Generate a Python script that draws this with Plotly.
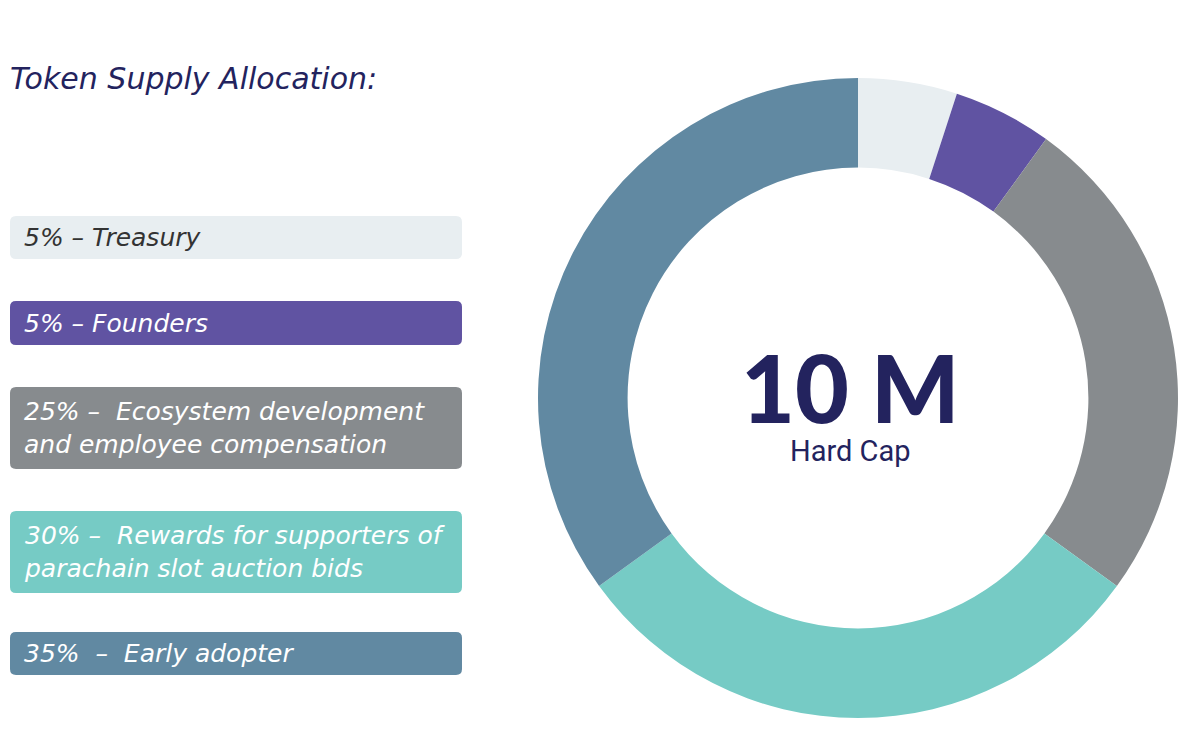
import plotly.graph_objects as go

# ---- data ----
categories = ["Treasury", "Founders",
              "Ecosystem development and employee compensation",
              "Rewards for supporters of parachain slot auction bids",
              "Early adopter"]
shares = [5, 5, 25, 30, 35]
box_labels = ["5% – Treasury",
              "5% – Founders",
              "25% –  Ecosystem development<br>and employee compensation",
              "30% –  Rewards for supporters of<br>parachain slot auction bids",
              "35%  –  Early adopter"]
colors = ["#e8eef1", "#6053a2", "#878b8e", "#76cbc5", "#6189a2"]
text_colors = ["#333333", "#ffffff", "#ffffff", "#ffffff", "#ffffff"]
title_text = "Token Supply Allocation:"
center_main = "10 M"
center_sub = "Hard Cap"

# ---- layout constants (pixels, page coordinates) ----
W, H = 1200, 735
OFF = 8  # page body margin
NAVY = "#23235e"
box_tops = [216, 301, 387, 511, 632]
box_bottoms = [259, 345, 469, 593, 675]
box_x0, box_x1 = 10, 462
radius_px = 6
TEXT_FONT = "DejaVu Sans"

def px(x):
    return (x - OFF) / W

def py(y):
    return 1 - (y - OFF) / H

def rounded_rect(x0, y0, x1, y1, r):
    def P(x, y):
        return f"{px(x):.5f},{py(y):.5f}"
    return (f"M {P(x0 + r, y0)} L {P(x1 - r, y0)} "
            f"Q {P(x1, y0)} {P(x1, y0 + r)} L {P(x1, y1 - r)} "
            f"Q {P(x1, y1)} {P(x1 - r, y1)} L {P(x0 + r, y1)} "
            f"Q {P(x0, y1)} {P(x0, y1 - r)} L {P(x0, y0 + r)} "
            f"Q {P(x0, y0)} {P(x0 + r, y0)} Z")

fig = go.Figure()

# donut: centre (858, 398), outer radius 320
cx, cy, R = 858, 398, 320
fig.add_trace(go.Pie(
    labels=categories,
    values=shares,
    hole=0.72,
    sort=False,
    direction="clockwise",
    rotation=0,
    marker=dict(colors=colors, line=dict(width=0)),
    textinfo="none",
    hoverinfo="label+percent",
    domain=dict(x=[px(cx - R), px(cx + R)], y=[py(cy + R), py(cy - R)]),
    showlegend=False,
))

shapes = []
annotations = []
for lab, col, tcol, t0, t1 in zip(box_labels, colors, text_colors, box_tops, box_bottoms):
    shapes.append(dict(type="path", xref="paper", yref="paper",
                       path=rounded_rect(box_x0, t0, box_x1, t1, radius_px),
                       fillcolor=col, line=dict(width=0), layer="below"))
    annotations.append(dict(
        x=px(22), y=py((t0 + t1) / 2), xref="paper", yref="paper",
        xanchor="left", yanchor="middle", showarrow=False, align="left",
        text=f"<i>{lab}</i>",
        font=dict(family=TEXT_FONT, size=25, color=tcol)))

annotations.append(dict(
    x=px(8), y=py(78), xref="paper", yref="paper",
    xanchor="left", yanchor="middle", showarrow=False,
    text=f"<i>{title_text}</i>",
    font=dict(family=TEXT_FONT, size=30, color=NAVY)))

annotations.append(dict(
    x=px(cx - 8), y=py(399), xref="paper", yref="paper",
    xanchor="center", yanchor="middle", showarrow=False, align="center",
    text=(f"<span style='font-family:Lato;font-size:93px;font-weight:900'>{center_main}</span>"
          f"<br>{center_sub}"),
    font=dict(family="Roboto", size=29, color=NAVY)))

fig.update_layout(
    width=W, height=H,
    margin=dict(l=0, r=0, t=0, b=0),
    paper_bgcolor="white", plot_bgcolor="white",
    shapes=shapes, annotations=annotations,
)

fig.write_html("out.html")
